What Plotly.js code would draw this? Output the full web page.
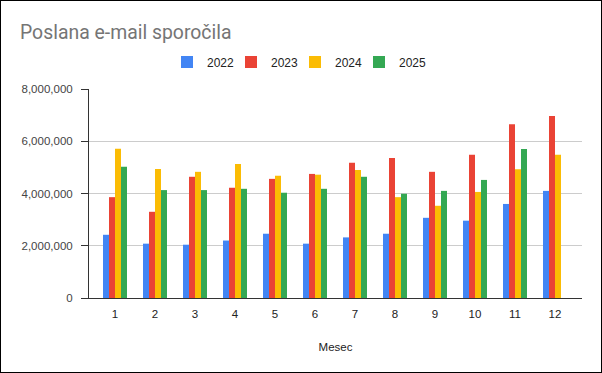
<!DOCTYPE html>
<html>
<head>
<meta charset="utf-8">
<script src="https://cdn.plot.ly/plotly-3.0.1.min.js"></script>
<style>
html,body{margin:0;padding:0;background:#fff;}
#chart{width:600px;height:371px;border:1px solid #000;}
</style>
</head>
<body>
<div id="chart"></div>
<script>
const months = ["1","2","3","4","5","6","7","8","9","10","11","12"];
const seriesNames = ["2022","2023","2024","2025"];
const v2022 = [2420000,2080000,2040000,2200000,2460000,2080000,2320000,2460000,3070000,2960000,3600000,4100000];
const v2023 = [3860000,3300000,4640000,4220000,4560000,4750000,5180000,5360000,4830000,5480000,6650000,6970000];
const v2024 = [5710000,4940000,4830000,5130000,4680000,4720000,4900000,3860000,3530000,4060000,4930000,5480000];
const v2025 = [5020000,4130000,4130000,4180000,4030000,4180000,4640000,3990000,4100000,4520000,5700000,null];
const colors = ["#4285F4","#EA4335","#FBBC04","#34A853"];
const allValues = [v2022,v2023,v2024,v2025];
const legendIds = ['legend','legend2','legend3','legend4'];

const traces = allValues.map((vals,i)=>({
  type:'bar', name:seriesNames[i], x:months, y:vals,
  marker:{color:colors[i]},
  legend: legendIds[i],
  hoverinfo:'x+y+name'
}));

const legendFont = {family:'Arial, sans-serif', size:12, color:'#222'};
const layout = {
  width:600, height:371,
  margin:{l:88,r:19,t:88,b:74},
  paper_bgcolor:'#fff', plot_bgcolor:'#fff',
  barmode:'group', bargap:0.4, bargroupgap:0,
  title:{text:'Poslana e-mail sporočila', font:{family:'Roboto, Arial, sans-serif', size:19.4, color:'#757575'},
    xref:'container', yref:'container', x:19/600, xanchor:'left', y:1-31/371, yanchor:'middle'},
  showlegend:true,
  xaxis:{type:'category', range:[-0.65,11.675], showline:true, linecolor:'#333', linewidth:1, ticks:'', showgrid:false,
    ticklabelstandoff:5,
    tickfont:{family:'Arial, sans-serif', size:11.5, color:'#222'},
    title:{text:'Mesec', font:{family:'Arial, sans-serif', size:11.5, color:'#222'}, standoff:24}},
  yaxis:{range:[0,8000000], tickvals:[0,2000000,4000000,6000000,8000000], tickformat:',d',
    showline:true, linecolor:'#333', linewidth:1, ticks:'outside', ticklen:7, tickcolor:'#333', ticklabelstandoff:6,
    gridcolor:'#ccc', zeroline:true, zerolinecolor:'#333', zerolinewidth:1,
    tickfont:{family:'Arial, sans-serif', size:11.5, color:'#444'}},
  font:{family:'Arial, sans-serif'}
};
legendIds.forEach((id,i)=>{
  layout[id] = {orientation:'h', xref:'container', yref:'container', x:(166 + i*64)/600, xanchor:'left',
    y:1-61/371, yanchor:'middle', font:legendFont, bgcolor:'rgba(0,0,0,0)'};
});

Plotly.newPlot('chart', traces, layout, {displayModeBar:false, staticPlot:true});
</script>
</body>
</html>
